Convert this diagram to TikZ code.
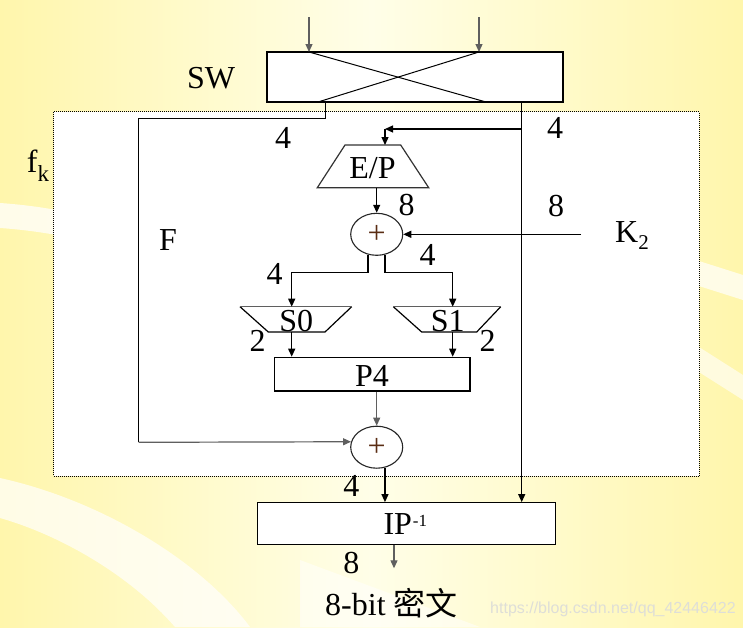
\documentclass[tikz,border=0pt]{standalone}
\usepackage{fontspec}
\setmainfont{Liberation Serif}
\newfontfamily\cjkfont{Noto Sans CJK SC}
\newfontfamily\wmfont{Liberation Sans}
\usetikzlibrary{arrows.meta,shapes.geometric,calc}
\definecolor{yA}{RGB}{255,246,172}
\definecolor{yB}{RGB}{255,254,232}
\definecolor{lgrey}{RGB}{95,95,95}
\definecolor{plusc}{RGB}{90,45,20}
\definecolor{wmc}{RGB}{222,222,216}
\tikzset{
  ln/.style={line width=1.2pt, draw=black},
  arr/.style={ln, -{Triangle[length=8pt,width=7pt]}},
  garr/.style={arr, draw=lgrey},
  lbl/.style={font=\fontsize{32}{36}\selectfont, inner sep=0pt, anchor=base},
  box/.style={draw, fill=white, line width=1.2pt, inner sep=0pt},
  xor/.style={draw=black!85, fill=white, ellipse, line width=1.1pt,
    minimum width=52pt, minimum height=42pt, inner sep=0pt,
    font=\fontsize{32}{32}\selectfont, text=plusc},
}
\begin{document}
\begin{tikzpicture}[x=1pt,y=-1pt]
\useasboundingbox (0,0) rectangle (743,627);
% background
\shade[left color=yA, right color=yA, middle color=yB] (0,0) rectangle (743,627);
\fill[white, opacity=.75] (0,203) .. controls (30,205) and (60,210) .. (80,215) -- (80,240) .. controls (60,235) and (30,230) .. (0,228) -- cycle;
\fill[white, opacity=.7] (680,255) -- (743,275) -- (743,300) -- (680,280) -- cycle;
\fill[white, opacity=.6] (680,335) -- (743,375) -- (743,400) -- (680,360) -- cycle;
\fill[white, opacity=.7] (0,478) .. controls (100,500) and (200,560) .. (250,627) -- (175,627) .. controls (130,575) and (60,535) .. (0,518) -- cycle;
\fill[white, opacity=.5] (300,560) -- (480,627) -- (300,627) -- cycle;
% f_k dotted box
\node[draw, fill=white, line width=1pt, dash pattern=on 1pt off 1pt,
  minimum width=645.5pt, minimum height=364.5pt, inner sep=0pt] (fkbox) at (376.25,293.75) {};
% SW box
\node[box, minimum width=296pt, minimum height=50pt] (sw) at (415,77) {};
\coordinate (in1) at (309,17);
\coordinate (in2) at (479,17);
\coordinate (swi1) at (309,52);
\coordinate (swi2) at (479,52);
\coordinate (swo1) at (318,102);
\coordinate (swo2) at (486,102);
\draw[garr] (in1) -- (swi1);
\draw[garr] (in2) -- (swi2);
\draw[line width=1pt] (swi1) -- (swo2);
\draw[line width=1pt] (swi2) -- (swo1);
% nodes
\node[xor] (x1) at (376.7,234.3) {+};
\node[xor] (x2) at (376.7,447.2) {+};
\node[box, minimum width=195.7pt, minimum height=33.7pt] (p4) at (372.15,374.15) {};
\node[box, minimum width=298pt, minimum height=41.6pt] (ip) at (406.3,523.5) {};
% E/P trapezoid
\draw[ln, draw=black!80, fill=white] (345,145) -- (400.7,145) -- (428.7,187.7) -- (317.3,187.7) -- cycle;
% S0, S1
\draw[ln] (240,306.7) -- (268.3,332) -- (325,332) -- (351.7,306.7);
\draw[ln, draw=lgrey] (240,306.7) -- (351.7,306.7);
\draw[ln] (393.3,306.7) -- (421.7,332) -- (476.7,332) -- (500.7,306.7);
\draw[ln, draw=lgrey] (393.3,306.7) -- (500.7,306.7);
% left path
\coordinate (lo) at (325.7,102);
\coordinate (lc1) at (325.7,118.7);
\coordinate (lc2) at (138.5,118.7);
\coordinate (lc3) at (138.5,442.3);
\draw[ln] (lo) -- (lc1) -- (lc2) -- (lc3);
\draw[garr] (lc3) -- (x2.168);
% right path
\coordinate (ro) at (521.7,102);
\coordinate (rb) at (521.7,129);
\coordinate (epin) at (385,129);
\coordinate (ept) at (385,145);
\draw[arr] (ro) -- (ro |- ip.north);
\draw[arr] (rb) -- (epin);
\draw[arr] (epin) -- (ept);
% E/P to xor
\coordinate (epo) at (376.7,187.7);
\draw[arr] (epo) -- (x1.north);
% K2
\coordinate (k2s) at (581,234.3);
\draw[arr] (k2s) -- (x1.east);
% split
\coordinate (c1b) at (291.7,272.3);
\coordinate (c2b) at (452.7,272.3);
\coordinate (s0in) at (291.7,306.7);
\coordinate (s1in) at (452.7,306.7);
\draw[arr] (x1.247.4) |- (c1b) -- (s0in);
\draw[arr] (x1.292.6) |- (c2b) -- (s1in);
% S to P4
\coordinate (s0o) at (291.7,332);
\coordinate (s1o) at (452.7,332);
\draw[arr] (s0o) -- (s0o |- p4.north);
\draw[arr] (s1o) -- (s1o |- p4.north);
% P4 to xor2
\draw[garr] (p4.south -| x2.north) -- (x2.north);
% xor2 to IP
\draw[arr] (x2.292.6) -- (x2.292.6 |- ip.north);
% IP output
\coordinate (outend) at (394,568.3);
\draw[garr] (outend |- ip.south) -- (outend);
% labels
\node[lbl] (tsw) at (211,88.3) {SW};
\node[lbl] (l4a) at (283,148) {4};
\node[lbl] (l4b) at (555,138.5) {4};
\node[lbl] (tep) at (372.5,178.3) {E/P};
\node[lbl] (l8a) at (406.7,215) {8};
\node[lbl] (l8b) at (556,216) {8};
\node[lbl, anchor=base west] (tk2) at (615,242.3) {K\raisebox{-6.7pt}{\fontsize{21}{21}\selectfont 2}};
\node[lbl] (tF) at (168,250) {F};
\node[lbl, anchor=base west] (tfk) at (26.7,172.7) {f\raisebox{-8.3pt}{\fontsize{23}{23}\selectfont k}};
\node[lbl] (l4c) at (274.7,284) {4};
\node[lbl] (l4d) at (427.5,265) {4};
\node[lbl] (l2a) at (257.5,351.7) {2};
\node[lbl] (l2b) at (487.5,351.7) {2};
\node[lbl] (ts0) at (296.3,331) {S0};
\node[lbl] (ts1) at (447.8,331) {S1};
\node[lbl] (tp4) at (372,386.7) {P4};
\node[lbl] (l4e) at (351.3,496.7) {4};
\node[lbl, anchor=base west] (tip) at (383.3,534.3) {IP\raisebox{7.6pt}{\fontsize{17}{17}\selectfont \kern1pt-1}};
\node[lbl] (l8c) at (351.3,573.3) {8};
\node[lbl, anchor=base west] (tout) at (325,615) {8-bit {\cjkfont 密文}};
\node[anchor=base west, inner sep=0pt, font=\wmfont\fontsize{16}{16}\selectfont, text=wmc] (wm) at (490,613.3) {https://blog.csdn.net/qq\_42446422};
\end{tikzpicture}
\end{document}
